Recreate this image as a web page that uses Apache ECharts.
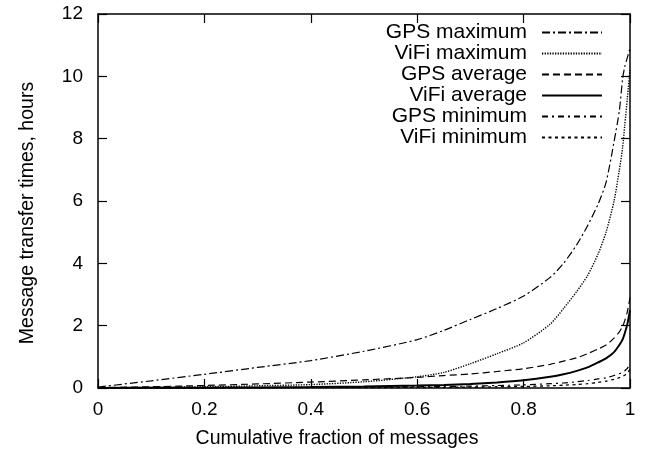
<!DOCTYPE html>
<html>
<head>
<meta charset="utf-8">
<script src="https://cdn.jsdelivr.net/npm/echarts@6/dist/echarts.min.js"></script>
<style>
html,body{margin:0;padding:0;background:#fff;}
#c{width:656px;height:454px;}
</style>
</head>
<body>
<div id="c"></div>
<script>
// Data
var frac = [0, 0.1, 0.2, 0.3, 0.4, 0.5, 0.6, 0.65, 0.7, 0.75, 0.8, 0.85, 0.875, 0.9, 0.92, 0.94, 0.955, 0.97, 0.98, 0.986, 0.99, 0.995, 1.0];
var gpsMax  = [0.03, 0.23, 0.44, 0.66, 0.88, 1.18, 1.55, 1.85, 2.2, 2.55, 2.95, 3.55, 4.0, 4.6, 5.2, 5.9, 6.6, 7.9, 8.9, 9.9, 10.3, 10.6, 10.9];
var vifiMax = [0.0, 0.02, 0.04, 0.07, 0.11, 0.2, 0.36, 0.5, 0.78, 1.1, 1.45, 2.05, 2.55, 3.1, 3.6, 4.3, 5.0, 6.0, 7.0, 7.7, 8.4, 9.3, 10.2];
var gpsAvg  = [0.01, 0.04, 0.08, 0.13, 0.19, 0.26, 0.34, 0.4, 0.45, 0.53, 0.62, 0.76, 0.86, 0.97, 1.1, 1.25, 1.38, 1.6, 1.8, 1.98, 2.15, 2.45, 2.9];
var vifiAvg = [0.0, 0.01, 0.01, 0.02, 0.03, 0.05, 0.08, 0.1, 0.13, 0.18, 0.25, 0.36, 0.44, 0.55, 0.66, 0.82, 0.95, 1.15, 1.38, 1.55, 1.75, 2.05, 2.5];
var gpsMin  = [0.0, 0.0, 0.01, 0.01, 0.02, 0.03, 0.04, 0.05, 0.06, 0.08, 0.1, 0.14, 0.16, 0.2, 0.24, 0.29, 0.33, 0.4, 0.46, 0.5, 0.55, 0.63, 0.78];
var vifiMin = [0, 0, 0, 0.01, 0.01, 0.01, 0.02, 0.02, 0.03, 0.04, 0.05, 0.07, 0.09, 0.11, 0.14, 0.18, 0.22, 0.28, 0.33, 0.37, 0.41, 0.48, 0.6];
var seriesNames = ['GPS maximum', 'ViFi maximum', 'GPS average', 'ViFi average', 'GPS minimum', 'ViFi minimum'];
var seriesValues = [gpsMax, vifiMax, gpsAvg, vifiAvg, gpsMin, vifiMin];
var xTicks = {min: 0, max: 1, interval: 0.2};
var yTicks = {min: 0, max: 12, interval: 2};
var xTitle = 'Cumulative fraction of messages';
var yTitle = 'Message transfer times, hours';

var styles = [
  {type: [8, 3, 2, 3], width: 1.2},
  {type: [1.3, 1.3], width: 1.4},
  {type: [7, 4], width: 1.2},
  {type: 'solid', width: 2},
  {type: [6, 4, 2, 4], width: 1.2},
  {type: [3, 3.5], width: 1.3}
];

function pairs(ys) { return frac.map(function (x, i) { return [x, ys[i]]; }); }

var font = 'Liberation Sans, Arial, Helvetica, sans-serif';
var axisLine = {show: true, onZero: false, lineStyle: {color: '#000', width: 1.5}};
var tick = {show: true, inside: true, length: 9, lineStyle: {color: '#000', width: 1.2}};

var chart = echarts.init(document.getElementById('c'), null, {renderer: 'canvas'});
chart.setOption({
  animation: false,
  backgroundColor: '#fff',
  textStyle: {fontFamily: font},
  grid: {left: 98, right: 26, top: 14, bottom: 66, containLabel: false},
  legend: {
    data: seriesNames,
    orient: 'vertical',
    align: 'right',
    right: 53,
    top: 22,
    padding: 0,
    itemGap: 0,
    itemWidth: 60,
    itemHeight: 14,
    selectedMode: false,
    itemStyle: {opacity: 0},
    textStyle: {fontFamily: font, fontSize: 21, color: '#000', lineHeight: 21, padding: [0, 10, 0, 0]}
  },
  xAxis: [{
    type: 'value', min: xTicks.min, max: xTicks.max, interval: xTicks.interval,
    position: 'bottom',
    axisLine: axisLine, axisTick: tick, splitLine: {show: false},
    axisLabel: {color: '#000', fontSize: 19, fontFamily: font, margin: 12},
    name: xTitle, nameLocation: 'middle', nameGap: 41,
    nameTextStyle: {color: '#000', fontSize: 19.5, fontFamily: font, padding: [0, 54, 0, 0]}
  }, {
    type: 'value', min: xTicks.min, max: xTicks.max, interval: xTicks.interval,
    position: 'top',
    axisLine: axisLine, axisTick: tick, splitLine: {show: false},
    axisLabel: {show: false}
  }],
  yAxis: [{
    type: 'value', min: yTicks.min, max: yTicks.max, interval: yTicks.interval,
    position: 'left',
    axisLine: axisLine, axisTick: tick, splitLine: {show: false},
    axisLabel: {color: '#000', fontSize: 19, fontFamily: font, margin: 15},
    name: yTitle, nameLocation: 'middle', nameGap: 60,
    nameTextStyle: {color: '#000', fontSize: 19.5, fontFamily: font, padding: [0, 24, 0, 0]}
  }, {
    type: 'value', min: yTicks.min, max: yTicks.max, interval: yTicks.interval,
    position: 'right',
    axisLine: axisLine, axisTick: tick, splitLine: {show: false},
    axisLabel: {show: false}
  }],
  series: seriesNames.map(function (name, i) {
    return {
      name: name,
      type: 'line',
      xAxisIndex: 0,
      yAxisIndex: 0,
      data: pairs(seriesValues[i]),
      symbol: 'none',
      smooth: 0.25,
      color: '#000',
      lineStyle: {color: '#000', width: styles[i].width, type: styles[i].type},
      z: 10 - i
    };
  })
});
</script>
</body>
</html>
